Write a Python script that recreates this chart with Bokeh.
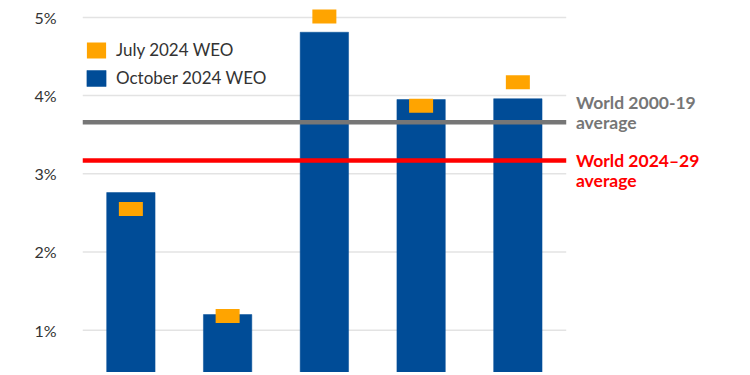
from bokeh.plotting import figure
from bokeh.models import Range1d, FixedTicker, Legend, LegendItem
from bokeh.core.properties import value
from bokeh.embed import file_html
from bokeh.resources import INLINE

# ---- data ----
positions = [0, 1, 2, 3, 4]               # bar slots (category labels are cut off in the reference)
october_2024 = [2.76, 1.20, 4.81, 3.95, 3.96]
july_2024 = [2.55, 1.18, 5.01, 3.87, 4.17]
world_2000_19_avg = 3.66
world_2024_29_avg = 3.17
y_ticks = [1, 2, 3, 4, 5]
y_tick_labels = ["1%", "2%", "3%", "4%", "5%"]

BLUE = "#004C97"
ORANGE = "#FFA400"
GRAY = "#767676"
RED = "#FF0000"
FONT = "Lato"

p = figure(width=742, height=372, output_backend="svg", toolbar_location=None,
           x_range=Range1d(-0.5, 6.322), y_range=Range1d(0.459, 5.216),
           min_border_left=82, min_border_right=0, min_border_top=0, min_border_bottom=0)
p.outline_line_color = None
p.xaxis.visible = False
p.xgrid.visible = False
p.ygrid.visible = False

ax = p.yaxis[0]
ax.ticker = FixedTicker(ticks=y_ticks)
ax.major_label_overrides = {t: l for t, l in zip(y_ticks, y_tick_labels)}
ax.axis_line_color = None
ax.major_tick_line_color = None
ax.minor_tick_line_color = None
ax.major_label_standoff = 20
ax.major_label_text_font = FONT
ax.major_label_text_font_size = "16px"
ax.major_label_text_color = "#333333"

# gridlines only across the bar area
x_left = positions[0] - 0.5
x_right = positions[-1] + 0.5
p.segment(x0=[x_left] * len(y_ticks), x1=[x_right] * len(y_ticks), y0=y_ticks, y1=y_ticks,
          line_color="#E3E3E3", line_width=1.5)

bars = p.vbar(x=positions, top=october_2024, bottom=0, width=0.5,
              fill_color=BLUE, line_color=BLUE, line_width=0.5)
marks = p.rect(x=positions, y=july_2024, width=24, height=14,
               width_units="screen", height_units="screen",
               fill_color=ORANGE, line_color=None)

# average lines
p.segment(x0=[x_left], x1=[x_right], y0=[world_2000_19_avg], y1=[world_2000_19_avg],
          line_color=GRAY, line_width=4.5)
p.segment(x0=[x_left], x1=[x_right], y0=[world_2024_29_avg], y1=[world_2024_29_avg],
          line_color=RED, line_width=4.5)

lx = x_right + 0.1
p.text(x=[lx, lx], y=[world_2000_19_avg, world_2000_19_avg], text=["World 2000-19", "average"],
       y_offset=[-20, 0], text_font=value(FONT), text_font_style="bold",
       text_font_size="17.5px", text_color=GRAY, text_baseline="middle", text_align="left")
p.text(x=[lx, lx], y=[world_2024_29_avg, world_2024_29_avg], text=["World 2024\u201329", "average"],
       y_offset=[0, 20], text_font=value(FONT), text_font_style="bold",
       text_font_size="17.5px", text_color=RED, text_baseline="middle", text_align="left")

legend = Legend(items=[LegendItem(label="July 2024 WEO", renderers=[marks]),
                       LegendItem(label="October 2024 WEO", renderers=[bars])],
                location=(2, 284), padding=0, margin=0, spacing=7,
                glyph_width=24, glyph_height=20, label_height=20, label_standoff=8,
                label_text_font=FONT, label_text_font_size="17px", label_text_color="#333333",
                border_line_color=None, background_fill_alpha=0)
p.add_layout(legend)

open("out.html", "w").write(file_html(p, INLINE))
